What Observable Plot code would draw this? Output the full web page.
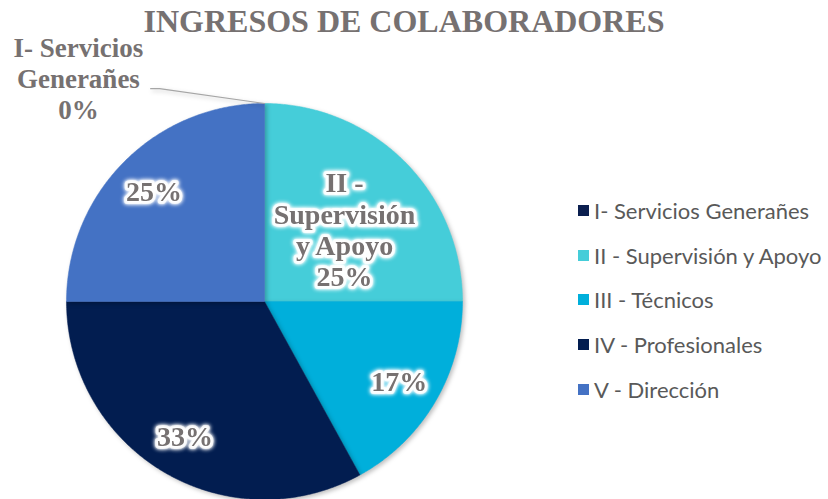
<!DOCTYPE html>
<html>
<head>
<meta charset="utf-8">
<script src="https://cdn.jsdelivr.net/npm/d3@7"></script>
<script src="https://cdn.jsdelivr.net/npm/@observablehq/plot@0.6"></script>
<style>
  html, body { margin: 0; padding: 0; background: #fff; }
  #wrap { position: relative; width: 828px; height: 499px; overflow: hidden; }
  #title { position: absolute; left: 0; width: 808px; top: 3px; text-align: center;
           font-family: "Liberation Serif", serif; font-weight: bold; font-size: 32px; color: #767171; }
  #legend { position: absolute; left: 578px; top: 188px; font-family: Lato, sans-serif; font-size: 22px; color: #595959; }
  .row { height: 44.7px; display: flex; align-items: center; white-space: nowrap; }
  .sw { width: 11px; height: 11px; margin-right: 5px; display: inline-block; }
</style>
</head>
<body>
<div id="wrap">
  <div id="chart"></div>
  <div id="title"></div>
  <div id="legend"></div>
</div>
<script>
const titleText = "INGRESOS DE COLABORADORES";
const categories = ["I- Servicios Generañes", "II - Supervisión y Apoyo", "III - Técnicos", "IV - Profesionales", "V - Dirección"];
const labelNames = ["I- Servicios\nGenerañes", "II -\nSupervisión\ny Apoyo", null, null, null];
const values = [0, 25, 17, 33, 25];
const colors = ["#0B1F4F", "#45CDD9", "#00AFDB", "#021D50", "#4472C4"];

const total = d3.sum(values);
const arcs = d3.pie().sort(null).value(d => d)(values);

// slice polygons in unit-circle coordinates (angle clockwise from 12 o'clock)
const slices = arcs.map((a, i) => {
  const pts = [];
  if (a.endAngle - a.startAngle <= 0) return pts;
  const n = Math.max(2, Math.ceil((a.endAngle - a.startAngle) / (Math.PI / 360)));
  pts.push({x: 0, y: 0});
  for (let k = 0; k <= n; k++) {
    const t = a.startAngle + (a.endAngle - a.startAngle) * k / n;
    pts.push({x: Math.sin(t), y: Math.cos(t)});
  }
  pts.push({x: 0, y: 0});
  return pts;
});

const pct = v => Math.round(v / total * 100) + "%";
const inside = [];
arcs.forEach((a, i) => {
  if (values[i] === 0) return;
  const mid = (a.startAngle + a.endAngle) / 2;
  const r = labelNames[i] ? 0.545 : 0.79;
  const ang = labelNames[i] ? mid + 0.05 : mid;
  inside.push({
    x: r * Math.sin(ang), y: r * Math.cos(ang),
    text: labelNames[i] ? labelNames[i] + "\n" + pct(values[i]) : pct(values[i])
  });
});

// outside label for zero slice, with leader line to the pie edge
const zeroIdx = values.findIndex(v => v === 0);
const zeroAngle = arcs[zeroIdx].startAngle;
const outside = [{x: -0.94, y: 1.128, text: labelNames[zeroIdx] + "\n" + pct(values[zeroIdx])}];
const leader = [
  {x: -0.575, y: 1.075},
  {x: -0.53, y: 1.075},
  {x: Math.sin(zeroAngle), y: Math.cos(zeroAngle)}
];

const sliceMarks = slices.map((pts, i) =>
  Plot.line(pts, {x: "x", y: "y", fill: colors[i], stroke: colors[i], strokeWidth: 0.5}));

const chart = Plot.plot({
  width: 828,
  height: 499,
  marginLeft: 66,
  marginRight: 366,
  marginTop: 103,
  marginBottom: 0,
  x: {domain: [-1, 1], axis: null},
  y: {domain: [-1, 1], axis: null},
  style: {background: "transparent", overflow: "visible"},
  marks: [
    ...sliceMarks,
    Plot.line(leader, {x: "x", y: "y", stroke: "#A6A6A6", strokeWidth: 1.2}),
    Plot.text(inside, {x: "x", y: "y", text: "text", fill: "#767171", stroke: "#fff", strokeWidth: 6, strokeOpacity: 0.75,
      strokeLinejoin: "round", fontFamily: "Liberation Serif", fontWeight: "bold", fontSize: 28, lineHeight: 1.11}),
    Plot.text(outside, {x: "x", y: "y", text: "text", fill: "#767171",
      fontFamily: "Liberation Serif", fontWeight: "bold", fontSize: 27, lineHeight: 1.15})
  ]
});
document.getElementById("chart").appendChild(chart);
document.getElementById("title").textContent = titleText;

// subtle shadow under the pie and white glow on inner labels
const lineGroups = chart.querySelectorAll('g[aria-label="line"]');
lineGroups.forEach((g, i) => { if (i < slices.length) g.style.filter = "drop-shadow(2px 2px 2px rgba(0,0,0,0.25))"; });
const textGroups = chart.querySelectorAll('g[aria-label="text"]');
if (textGroups[0]) textGroups[0].style.filter = "drop-shadow(0 0 2px #fff) drop-shadow(0 0 1px #fff)";

const legend = document.getElementById("legend");
categories.forEach((c, i) => {
  const row = document.createElement("div");
  row.className = "row";
  const sw = document.createElement("span");
  sw.className = "sw";
  sw.style.background = colors[i];
  const t = document.createElement("span");
  t.textContent = c;
  row.appendChild(sw);
  row.appendChild(t);
  legend.appendChild(row);
});
</script>
</body>
</html>
